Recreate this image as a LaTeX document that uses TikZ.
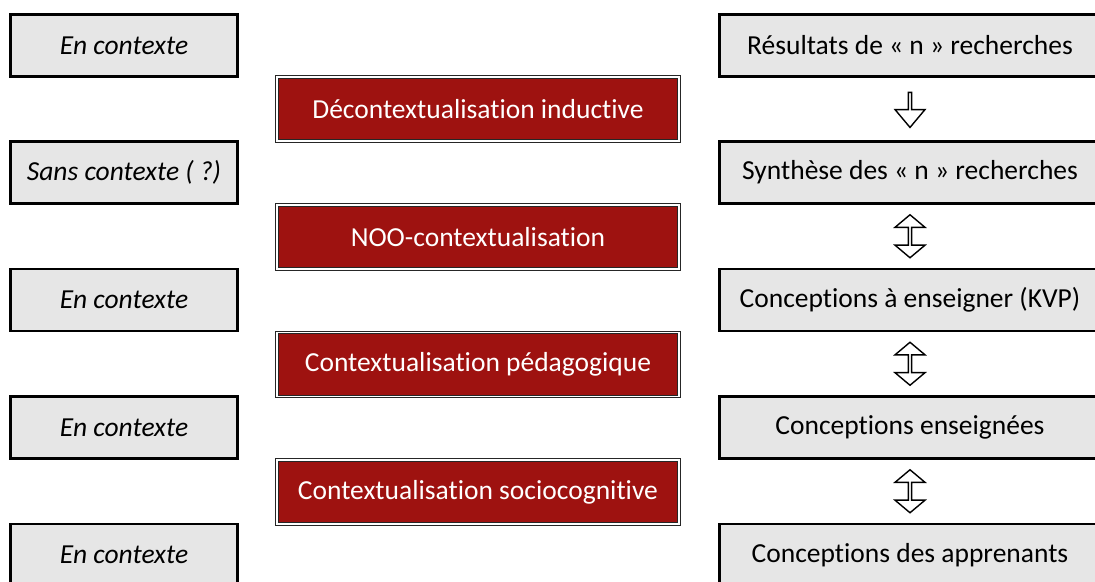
\documentclass[tikz,border=0pt]{standalone}
\usepackage{fontspec}
\setmainfont{Carlito}[Ligatures=NoCommon]
\usepackage{xcolor}
\usepackage{tikz}
\usetikzlibrary{positioning,calc,shapes.arrows}

\definecolor{boxgray}{RGB}{230,230,230}
\definecolor{stagered}{RGB}{158,18,16}

\newcommand{\boxfont}{\fontsize{27.5}{32}\selectfont}

\tikzset{
  ctxbox/.style={draw, line width=2.4pt, fill=boxgray, minimum width=227pt,
    minimum height=62pt, inner sep=0pt, font=\boxfont\itshape},
  conbox/.style={draw, line width=2.4pt, fill=boxgray, minimum width=381pt,
    minimum height=62pt, inner sep=0pt, font=\boxfont},
  stagebox/.style={draw=black!85, line width=1.2pt, double=white, double distance=1.5pt,
    fill=stagered, text=white, minimum width=402pt, minimum height=64pt, inner sep=0pt,
    font=\boxfont},
  downarrow/.style={single arrow, draw, line width=1.4pt, fill=white, inner sep=0pt,
    minimum height=35pt, minimum width=30pt, single arrow head extend=6pt,
    single arrow tip angle=80, shape border rotate=270},
  bothways/.style={double arrow, draw, line width=1.4pt, fill=white, inner sep=0pt,
    minimum height=43pt, minimum width=30pt, double arrow head extend=6pt,
    double arrow tip angle=100, shape border rotate=90}
}

\begin{document}
\begin{tikzpicture}[x=1pt, y=-1pt]
  \path[use as bounding box, clip] (0,0) rectangle (1095,581);

  % left column: where the knowledge stands
  \node[ctxbox] (l1) at (124,45.5) {En contexte};
  \node[ctxbox] (l2) at (124,172.5) {Sans contexte ( ?)};
  \node[ctxbox] (l3) at (124,300) {En contexte};
  \node[ctxbox] (l4) at (124,427.5) {En contexte};
  \node[ctxbox] (l5) at (124,555) {En contexte};

  % middle column: the transitions
  \node[stagebox] (s1) at (478,109) {Décontextualisation inductive};
  \node[stagebox] (s2) at (478,237) {NOO-contextualisation};
  \node[stagebox] (s3) at (478,364.5) {Contextualisation pédagogique};
  \node[stagebox] (s4) at (478,492) {Contextualisation sociocognitive};

  % right column: the conceptions
  \node[conbox] (r1) at (910,45.5) {Résultats de « n » recherches};
  \node[conbox] (r2) at (910,172.5) {Synthèse des « n » recherches};
  \node[conbox] (r3) at (910,300) {Conceptions à enseigner (KVP)};
  \node[conbox] (r4) at (910,427.5) {Conceptions enseignées};
  \node[conbox] (r5) at (910,555) {Conceptions des apprenants};

  \node[downarrow] (a1) at ($ (r1.south)!0.5!(r2.north) $) {};
  \node[bothways] (a2) at ($ (r2.south)!0.5!(r3.north) $) {};
  \node[bothways] (a3) at ($ (r3.south)!0.5!(r4.north) $) {};
  \node[bothways] (a4) at ($ (r4.south)!0.5!(r5.north) $) {};
\end{tikzpicture}
\end{document}
